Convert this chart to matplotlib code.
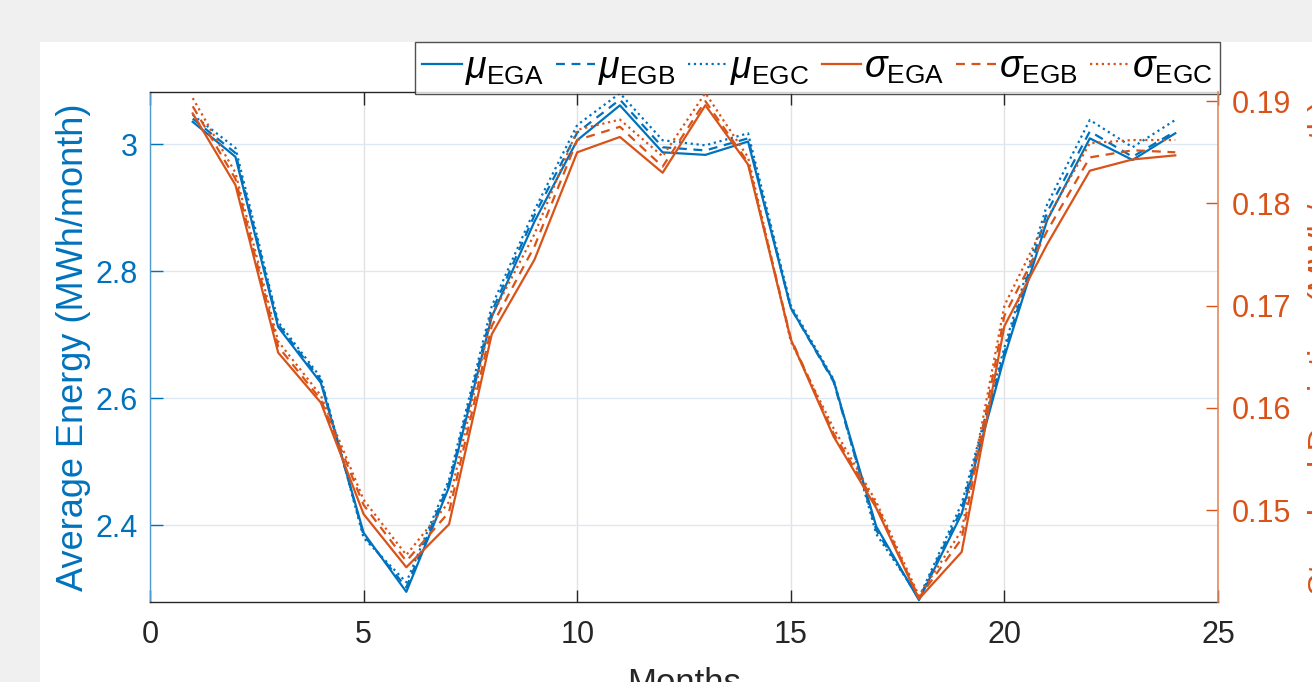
import numpy as np
import matplotlib
matplotlib.use('Agg')
import matplotlib.pyplot as plt
from matplotlib.patches import Rectangle

# data
months = list(range(1, 25))

mu_ega = [3.035, 2.980, 2.712, 2.624, 2.388, 2.295, 2.460, 2.728, 2.878, 3.006, 3.061, 2.987,
          2.983, 3.004, 2.742, 2.628, 2.398, 2.282, 2.418, 2.665, 2.880, 3.009, 2.975, 3.017]
mu_egb = [3.040, 2.986, 2.716, 2.628, 2.384, 2.302, 2.466, 2.736, 2.888, 3.018, 3.070, 2.995,
          2.990, 3.009, 2.742, 2.626, 2.392, 2.284, 2.426, 2.672, 2.893, 3.020, 2.980, 3.020]
mu_egc = [3.046, 2.994, 2.720, 2.632, 2.380, 2.310, 2.472, 2.745, 2.896, 3.030, 3.080, 3.006,
          2.998, 3.017, 2.746, 2.630, 2.386, 2.286, 2.434, 2.680, 2.905, 3.038, 2.995, 3.038]

sig_ega = [0.1888, 0.1818, 0.1654, 0.1605, 0.1496, 0.1444, 0.1486, 0.1672, 0.1745, 0.1850, 0.1865, 0.1830,
           0.1896, 0.1838, 0.1667, 0.1572, 0.1502, 0.1413, 0.1459, 0.1680, 0.1760, 0.1832, 0.1843, 0.1847]
sig_egb = [0.1895, 0.1824, 0.1660, 0.1608, 0.1505, 0.1450, 0.1498, 0.1680, 0.1758, 0.1862, 0.1875, 0.1836,
           0.1900, 0.1840, 0.1668, 0.1575, 0.1505, 0.1414, 0.1472, 0.1690, 0.1773, 0.1845, 0.1852, 0.1850]
sig_egc = [0.1903, 0.1830, 0.1665, 0.1612, 0.1510, 0.1456, 0.1508, 0.1690, 0.1770, 0.1872, 0.1882, 0.1846,
           0.1908, 0.1845, 0.1665, 0.1580, 0.1508, 0.1416, 0.1480, 0.1700, 0.1785, 0.1859, 0.1862, 0.1862]

left_ticks = [2.4, 2.6, 2.8, 3.0]
left_labels = ['2.4', '2.6', '2.8', '3']
right_ticks = [0.15, 0.16, 0.17, 0.18, 0.19]
right_labels = ['0.15', '0.16', '0.17', '0.18', '0.19']
x_ticks = [0, 5, 10, 15, 20, 25]

BLUE = '#0072BD'
ORANGE = '#D95319'
DARK = '#262626'

plt.rcParams['font.family'] = ['Liberation Sans', 'DejaVu Sans']
plt.rcParams['mathtext.fontset'] = 'custom'
plt.rcParams['mathtext.rm'] = 'Liberation Sans'
plt.rcParams['mathtext.it'] = 'Liberation Sans:italic'

fig = plt.figure(figsize=(13.12, 6.82), dpi=100, facecolor='#f0f0f0')
# white figure area (the reference is a screenshot of a figure window)
fig.patches.append(Rectangle((40 / 1312, 0), 1.0, 1 - 42 / 682, transform=fig.transFigure,
                             facecolor='white', edgecolor='none', zorder=-10))

ax1 = fig.add_axes([150 / 1312, 80 / 682, 1068 / 1312, 510 / 682])
ax2 = ax1.twinx()

l1, = ax1.plot(months, mu_ega, '-', color=BLUE, lw=1.6)
l2, = ax1.plot(months, mu_egb, '--', color=BLUE, lw=1.6, dashes=(4, 3))
l3, = ax1.plot(months, mu_egc, ':', color=BLUE, lw=1.6)
l4, = ax2.plot(months, sig_ega, '-', color=ORANGE, lw=1.6)
l5, = ax2.plot(months, sig_egb, '--', color=ORANGE, lw=1.6, dashes=(4, 3))
l6, = ax2.plot(months, sig_egc, ':', color=ORANGE, lw=1.6)

ax1.set_xlim(0, 25)
ax1.set_ylim(2.279, 3.082)
ax2.set_ylim(0.1410, 0.1909)

ax1.set_xticks(x_ticks)
ax1.set_yticks(left_ticks)
ax1.set_yticklabels(left_labels)
ax2.set_yticks(right_ticks)
ax2.set_yticklabels(right_labels)

# grid
ax1.grid(axis='x', color='#e2e2e2', lw=1)
ax1.grid(axis='y', color='#dce9f4', lw=1)
ax1.set_axisbelow(True)

# spines
ax1.spines['left'].set_color('#4f9bd0')
for s in ['top', 'bottom']:
    ax1.spines[s].set_color(DARK)
ax1.spines['right'].set_visible(False)
for s in ['left', 'top', 'bottom']:
    ax2.spines[s].set_visible(False)
ax2.spines['right'].set_color('#e58a5e')
for s in ax1.spines.values():
    s.set_linewidth(1.0)
ax2.spines['right'].set_linewidth(1.2)

ax1.tick_params(axis='x', direction='in', top=True, length=9, width=1, color=DARK,
                labelsize=22, labelcolor=DARK, pad=13)
ax1.tick_params(axis='y', direction='in', length=9, width=1, color=BLUE,
                labelsize=22, labelcolor=BLUE, pad=9)
ax2.tick_params(axis='y', direction='in', length=9, width=1, color=ORANGE,
                labelsize=22, labelcolor=ORANGE, pad=10)

ax1.set_ylabel('Average Energy (MWh/month)', color=BLUE, fontsize=26, labelpad=3)
ax2.set_ylabel('Standard Deviation (MWh/month)', color=ORANGE, fontsize=24, labelpad=12)
ax1.set_xlabel('Months', color=DARK, fontsize=25, labelpad=12)

labels = [r'$\mu_{\mathrm{EGA}}$', r'$\mu_{\mathrm{EGB}}$', r'$\mu_{\mathrm{EGC}}$',
          r'$\sigma_{\mathrm{EGA}}$', r'$\sigma_{\mathrm{EGB}}$', r'$\sigma_{\mathrm{EGC}}$']
leg = ax1.legend([l1, l2, l3, l4, l5, l6], labels, ncol=6, loc='lower right',
                 bbox_to_anchor=(1.002, 0.996), fontsize=27, frameon=True, fancybox=False,
                 handlelength=1.05, handletextpad=0.08, columnspacing=0.33,
                 borderpad=0.2, borderaxespad=0.0)
leg.get_frame().set_edgecolor(DARK)
leg.get_frame().set_linewidth(1.0)

fig.savefig('out.png', dpi=100, facecolor=fig.get_facecolor())
